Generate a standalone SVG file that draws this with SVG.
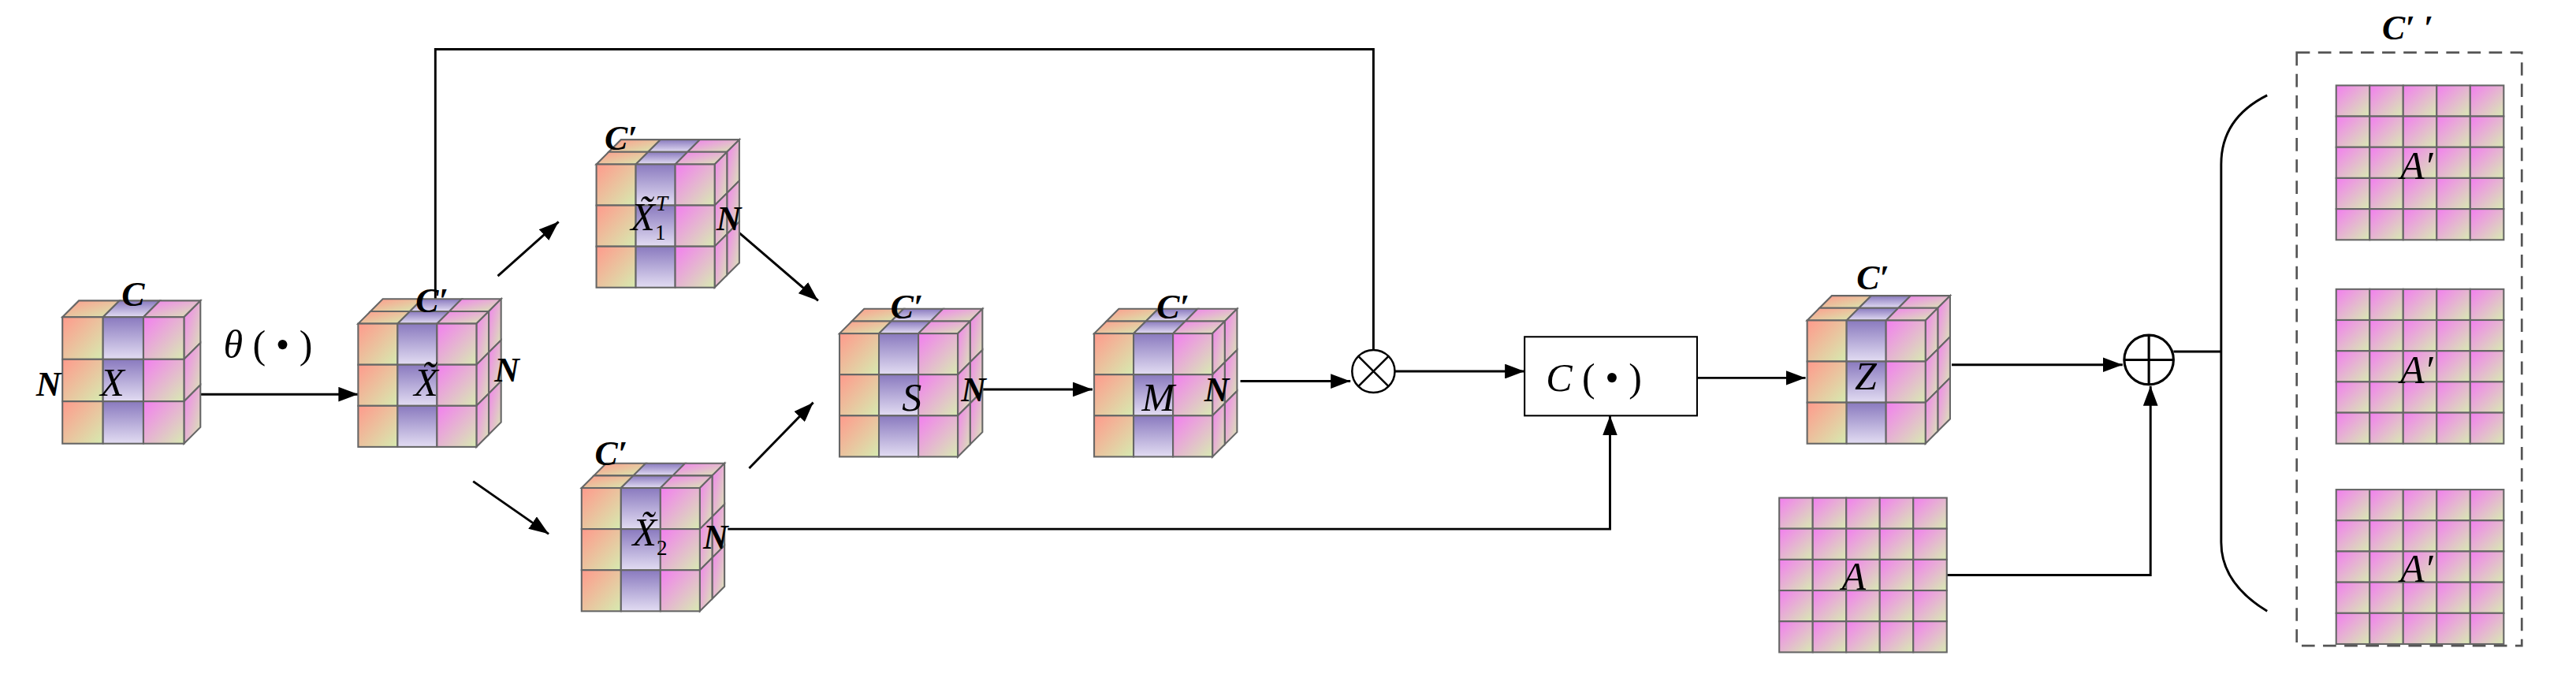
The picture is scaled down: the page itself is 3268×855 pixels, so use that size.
<svg xmlns="http://www.w3.org/2000/svg" width="3268" height="855" viewBox="0 0 3268 855">
<style>
.c{stroke:#666;stroke-width:1}
.ln{fill:none;stroke:#000;stroke-width:1.4}
.m{font-family:"Liberation Serif",serif;font-style:italic;font-size:24px;fill:#000}
.b{font-family:"Liberation Serif",serif;font-style:italic;font-weight:bold;font-size:21px;fill:#000}
.r{font-family:"Liberation Serif",serif;font-size:24px;fill:#000}
</style>
<defs>
<linearGradient id="gO" x1="0" y1="0" x2="1" y2="1"><stop offset="0" stop-color="#ff9a8c"/><stop offset="1" stop-color="#d6ebb0"/></linearGradient>
<linearGradient id="gP" x1="0" y1="0" x2="0" y2="1"><stop offset="0" stop-color="#8a7abf"/><stop offset="1" stop-color="#e2dcf2"/></linearGradient>
<linearGradient id="gM" x1="0" y1="0" x2="1" y2="1"><stop offset="0" stop-color="#f37ef0"/><stop offset="1" stop-color="#d8ebb2"/></linearGradient>
<marker id="ah" markerUnits="userSpaceOnUse" markerWidth="12" markerHeight="9" refX="12" refY="4.5" orient="auto"><path d="M0,0L12,4.5L0,9z" fill="#000"/></marker>
<g id="cube2">
<polygon class="c" fill="url(#gO)" points="7.5,-7.5 31.5,-7.5 39,-15 15,-15"/>
<polygon class="c" fill="url(#gP)" points="31.5,-7.5 55.5,-7.5 63,-15 39,-15"/>
<polygon class="c" fill="url(#gM)" points="55.5,-7.5 79.5,-7.5 87,-15 63,-15"/>
<polygon class="c" fill="url(#gO)" points="0,0 24,0 31.5,-7.5 7.5,-7.5"/>
<polygon class="c" fill="url(#gP)" points="24,0 48,0 55.5,-7.5 31.5,-7.5"/>
<polygon class="c" fill="url(#gM)" points="48,0 72,0 79.5,-7.5 55.5,-7.5"/>
<polygon class="c" fill="url(#gM)" points="79.5,-7.5 87,-15 87,10 79.5,17.5"/>
<polygon class="c" fill="url(#gM)" points="79.5,17.5 87,10 87,35 79.5,42.5"/>
<polygon class="c" fill="url(#gM)" points="79.5,42.5 87,35 87,60 79.5,67.5"/>
<polygon class="c" fill="url(#gM)" points="72,0 79.5,-7.5 79.5,17.5 72,25"/>
<polygon class="c" fill="url(#gM)" points="72,25 79.5,17.5 79.5,42.5 72,50"/>
<polygon class="c" fill="url(#gM)" points="72,50 79.5,42.5 79.5,67.5 72,75"/>
<rect class="c" fill="url(#gO)" x="0" y="0" width="24" height="25"/><rect class="c" fill="url(#gO)" x="0" y="25" width="24" height="25"/><rect class="c" fill="url(#gO)" x="0" y="50" width="24" height="25"/>
<rect class="c" fill="url(#gP)" x="24" y="0" width="24" height="25"/><rect class="c" fill="url(#gP)" x="24" y="25" width="24" height="25"/><rect class="c" fill="url(#gP)" x="24" y="50" width="24" height="25"/>
<rect class="c" fill="url(#gM)" x="48" y="0" width="24" height="25"/><rect class="c" fill="url(#gM)" x="48" y="25" width="24" height="25"/><rect class="c" fill="url(#gM)" x="48" y="50" width="24" height="25"/>
</g>
<g id="cube1">
<polygon class="c" fill="url(#gO)" points="0,0 24.7,0 34.7,-10 10,-10"/>
<polygon class="c" fill="url(#gP)" points="24.7,0 49.3,0 59.3,-10 34.7,-10"/>
<polygon class="c" fill="url(#gM)" points="49.3,0 74,0 84,-10 59.3,-10"/>
<polygon class="c" fill="url(#gM)" points="74,0 84,-10 84,15.7 74,25.7"/>
<polygon class="c" fill="url(#gM)" points="74,25.7 84,15.7 84,41.3 74,51.3"/>
<polygon class="c" fill="url(#gM)" points="74,51.3 84,41.3 84,67 74,77"/>
<rect class="c" fill="url(#gO)" x="0" y="0" width="24.7" height="25.7"/><rect class="c" fill="url(#gO)" x="0" y="25.7" width="24.7" height="25.6"/><rect class="c" fill="url(#gO)" x="0" y="51.3" width="24.7" height="25.7"/>
<rect class="c" fill="url(#gP)" x="24.7" y="0" width="24.6" height="25.7"/><rect class="c" fill="url(#gP)" x="24.7" y="25.7" width="24.6" height="25.6"/><rect class="c" fill="url(#gP)" x="24.7" y="51.3" width="24.6" height="25.7"/>
<rect class="c" fill="url(#gM)" x="49.3" y="0" width="24.7" height="25.7"/><rect class="c" fill="url(#gM)" x="49.3" y="25.7" width="24.7" height="25.6"/><rect class="c" fill="url(#gM)" x="49.3" y="51.3" width="24.7" height="25.7"/>
</g>
<g id="grid">
<rect class="c" fill="url(#gM)" x="0" y="0" width="20.4" height="18.8"/><rect class="c" fill="url(#gM)" x="20.4" y="0" width="20.4" height="18.8"/><rect class="c" fill="url(#gM)" x="40.8" y="0" width="20.4" height="18.8"/><rect class="c" fill="url(#gM)" x="61.2" y="0" width="20.4" height="18.8"/><rect class="c" fill="url(#gM)" x="81.6" y="0" width="20.4" height="18.8"/>
<rect class="c" fill="url(#gM)" x="0" y="18.8" width="20.4" height="18.8"/><rect class="c" fill="url(#gM)" x="20.4" y="18.8" width="20.4" height="18.8"/><rect class="c" fill="url(#gM)" x="40.8" y="18.8" width="20.4" height="18.8"/><rect class="c" fill="url(#gM)" x="61.2" y="18.8" width="20.4" height="18.8"/><rect class="c" fill="url(#gM)" x="81.6" y="18.8" width="20.4" height="18.8"/>
<rect class="c" fill="url(#gM)" x="0" y="37.6" width="20.4" height="18.8"/><rect class="c" fill="url(#gM)" x="20.4" y="37.6" width="20.4" height="18.8"/><rect class="c" fill="url(#gM)" x="40.8" y="37.6" width="20.4" height="18.8"/><rect class="c" fill="url(#gM)" x="61.2" y="37.6" width="20.4" height="18.8"/><rect class="c" fill="url(#gM)" x="81.6" y="37.6" width="20.4" height="18.8"/>
<rect class="c" fill="url(#gM)" x="0" y="56.4" width="20.4" height="18.8"/><rect class="c" fill="url(#gM)" x="20.4" y="56.4" width="20.4" height="18.8"/><rect class="c" fill="url(#gM)" x="40.8" y="56.4" width="20.4" height="18.8"/><rect class="c" fill="url(#gM)" x="61.2" y="56.4" width="20.4" height="18.8"/><rect class="c" fill="url(#gM)" x="81.6" y="56.4" width="20.4" height="18.8"/>
<rect class="c" fill="url(#gM)" x="0" y="75.2" width="20.4" height="18.8"/><rect class="c" fill="url(#gM)" x="20.4" y="75.2" width="20.4" height="18.8"/><rect class="c" fill="url(#gM)" x="40.8" y="75.2" width="20.4" height="18.8"/><rect class="c" fill="url(#gM)" x="61.2" y="75.2" width="20.4" height="18.8"/><rect class="c" fill="url(#gM)" x="81.6" y="75.2" width="20.4" height="18.8"/>
</g>
</defs>
<rect width="3268" height="855" fill="#fff"/>
<g transform="scale(2.0842)">
<g id="connectors">
<line class="ln" x1="122" y1="240" x2="218" y2="240" marker-end="url(#ah)"/>
<polyline class="ln" points="265,183 265,30 836,30 836,213"/>
<line class="ln" x1="303" y1="168" x2="340" y2="135" marker-end="url(#ah)"/>
<line class="ln" x1="288" y1="293" x2="334" y2="325" marker-end="url(#ah)"/>
<line class="ln" x1="448" y1="140" x2="498" y2="183" marker-end="url(#ah)"/>
<line class="ln" x1="456" y1="285" x2="495" y2="245" marker-end="url(#ah)"/>
<line class="ln" x1="598" y1="237" x2="665" y2="237" marker-end="url(#ah)"/>
<line class="ln" x1="755" y1="232" x2="822" y2="232" marker-end="url(#ah)"/>
<line class="ln" x1="849" y1="226" x2="928" y2="226" marker-end="url(#ah)"/>
<line class="ln" x1="1033" y1="230" x2="1099" y2="230" marker-end="url(#ah)"/>
<line class="ln" x1="1188" y1="222" x2="1292" y2="222" marker-end="url(#ah)"/>
<polyline class="ln" points="443,322 980,322 980,253" marker-end="url(#ah)"/>
<polyline class="ln" points="1185,350 1309,350 1309,235" marker-end="url(#ah)"/>
<line class="ln" x1="1323" y1="214" x2="1352" y2="214"/>
<path class="ln" d="M1380,58 Q1352,72 1352,100 L1352,330 Q1352,355 1380,372"/>
</g>
<g id="n-x"><use href="#cube1" x="38" y="193"/><text class="b" x="74" y="186">C</text><text class="b" x="22" y="241">N</text><text class="m" x="61" y="241">X</text></g>
<text class="r" x="136" y="218"><tspan font-style="italic">θ</tspan> (  •  )</text>
<g id="n-xt"><use href="#cube2" x="218" y="197"/><text class="b" x="253" y="190">C′</text><text class="b" x="301" y="232">N</text><text class="m" x="252" y="241">X̃</text></g>
<g id="n-x1"><use href="#cube2" x="363" y="100"/><text class="b" x="368" y="91">C′</text><text class="b" x="436" y="140">N</text><text class="m" x="384" y="140">X̃<tspan font-size="13" font-style="normal" dy="6">1</tspan><tspan font-size="13" dx="-6" dy="-18">T</tspan></text></g>
<g id="n-x2"><use href="#cube2" x="354" y="297"/><text class="b" x="362" y="283">C′</text><text class="b" x="428" y="334">N</text><text class="m" x="385" y="332">X̃<tspan font-size="13" font-style="normal" dy="6">2</tspan></text></g>
<g id="n-s"><use href="#cube2" x="511" y="203"/><text class="b" x="542" y="194">C′</text><text class="b" x="585" y="244">N</text><text class="m" x="549" y="250" font-size="17">S</text></g>
<g id="n-m"><use href="#cube2" x="666" y="203"/><text class="b" x="704" y="194">C′</text><text class="b" x="733" y="244">N</text><text class="m" x="695" y="250" font-size="17">M</text></g>
<g id="n-ot"><circle cx="836" cy="226" r="13" fill="#fff" stroke="#000" stroke-width="1.2"/><path d="M826.8,216.8L845.2,235.2M845.2,216.8L826.8,235.2" stroke="#000" stroke-width="1.2"/></g>
<g id="n-c"><rect x="928" y="205" width="105" height="48" fill="#fff" stroke="#000" stroke-width="1"/><text class="r" x="941" y="238"><tspan font-style="italic">C</tspan> (  •  )</text></g>
<g id="n-z"><use href="#cube2" x="1100" y="195"/><text class="b" x="1130" y="176">C′</text><text class="m" x="1129" y="237">Z</text></g>
<g id="n-op"><circle cx="1308" cy="219" r="15" fill="#fff" stroke="#000" stroke-width="1.5"/><path d="M1293,219H1323M1308,204V234" stroke="#000" stroke-width="1.5"/></g>
<g id="n-a"><use href="#grid" x="1083" y="303"/><text class="m" x="1121" y="359">A</text></g>
<g id="n-cpp"><rect x="1398" y="32" width="137" height="361" fill="none" stroke="#555" stroke-width="1.3" stroke-dasharray="8,5"/><text class="b" x="1450" y="24">C′ ′</text>
<use href="#grid" x="1422" y="52"/><text class="m" x="1461" y="109">A′</text>
<use href="#grid" x="1422" y="176"/><text class="m" x="1461" y="233">A′</text>
<use href="#grid" x="1422" y="298"/><text class="m" x="1461" y="354">A′</text></g>
</g>
</svg>
